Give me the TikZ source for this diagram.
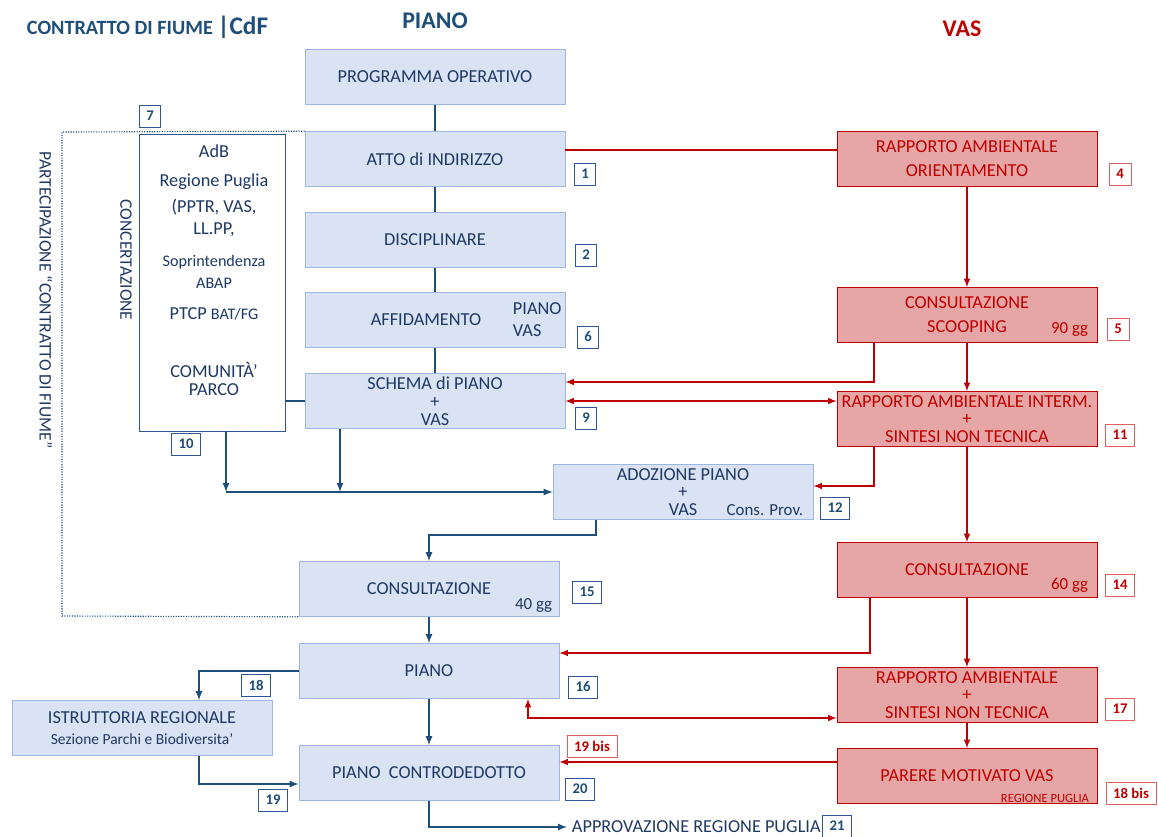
\documentclass[tikz,border=0pt]{standalone}
\usepackage{fontspec}
\setmainfont{Carlito}

\definecolor{pianofill}{HTML}{DAE3F3}
\definecolor{pianoedge}{HTML}{9DB5E0}
\definecolor{pianotext}{HTML}{203864}
\definecolor{pianoline}{HTML}{1F4E79}
\definecolor{numedge}{HTML}{2F5597}
\definecolor{vasfill}{HTML}{E6A6A6}
\definecolor{vasred}{HTML}{C00000}
\definecolor{vasnumedge}{HTML}{E06060}

\newcommand\testo{\fontsize{13}{15.6}\selectfont}
\newcommand\minore{\fontsize{11.5}{13.8}\selectfont}
\newcommand\cifra{\fontsize{10.5}{12.6}\selectfont\bfseries}

\begin{document}
\begin{tikzpicture}[> = latex, x = 0.025cm, y = -0.025cm,
	blocco/.style = {draw = pianoedge, fill = pianofill, text = pianotext, minimum width = 6.5cm, minimum height = 1.375cm, inner sep = 0pt, align = center, font = \testo},
	vasblocco/.style = {blocco, draw = vasred, fill = vasfill, text = vasred},
	num/.style = {draw = numedge, fill = white, text = pianoline, font = \cifra, inner xsep = 5pt, minimum height = 0.55cm},
	vasnum/.style = {num, draw = vasnumedge, text = vasred},
	linea/.style = {draw = pianoline, line width = 1.2pt},
	vaslinea/.style = {draw = vasred, line width = 1.1pt}]

	\useasboundingbox (0, 0) rectangle (1158, 836);

	% Titles
	
	\node [anchor = west, text = pianoline, font = \fontsize{14.4}{17}\selectfont\bfseries] (titolo) at (22, 27) {CONTRATTO DI FIUME {\fontsize{18}{18}\selectfont|CdF}};
	\node [text = pianoline, font = \fontsize{17}{20}\selectfont\bfseries] (piano-tit) at (435, 21) {PIANO};
	\node [text = vasred, font = \fontsize{17}{20}\selectfont\bfseries] (vas-tit) at (962, 29) {VAS};

	% Piano column
	
	\node [blocco] (prog) at (435, 77) {PROGRAMMA OPERATIVO};
	\node [blocco] (atto) at (435, 159) {ATTO di INDIRIZZO};
	\node [blocco] (disc) at (435, 240) {DISCIPLINARE};
	\node [blocco] (affid) at (435, 320) {AFFIDAMENTO\hspace*{0.45cm}};
	\node [blocco] (schema) at (435, 401) {SCHEMA di PIANO\\[-3pt]+\\[-3pt]VAS};
	\node [blocco] (adoz) at (683, 492) {ADOZIONE PIANO\\[-3pt]+\\[-3pt]VAS};
	\node [blocco] (cons) at (429, 589) {CONSULTAZIONE};
	\node [blocco] (piano) at (429, 671) {PIANO};
	\node [blocco] (istr) at (142, 728) {ISTRUTTORIA REGIONALE\\[-1pt]{\fontsize{11}{13}\selectfont Sezione Parchi e Biodiversita’}};
	\node [blocco] (contro) at (429, 773) {PIANO\ \ CONTRODEDOTTO};
	
	\node [anchor = west, text = pianotext, align = left, font = \testo] (affid-pv) at (508, 320) {PIANO\\VAS};
	\node [anchor = east, text = pianotext, font = \fontsize{12}{14}\selectfont] (adoz-cp) at (808, 510) {Cons. Prov.};
	\node [anchor = east, text = pianotext, font = \fontsize{12}{14}\selectfont] (cons-gg) at (557, 605) {40 gg};
	\node [anchor = west, text = pianotext, font = \testo] (appr) at (567, 827) {APPROVAZIONE REGIONE PUGLIA};

	% VAS column
	
	\node [vasblocco] (ra) at (967, 159) {RAPPORTO AMBIENTALE\\[1.5pt]ORIENTAMENTO};
	\node [vasblocco] (scoop) at (967, 315) {CONSULTAZIONE\\[1.5pt]SCOOPING};
	\node [vasblocco] (interm) at (967, 419) {RAPPORTO AMBIENTALE INTERM.\\[-3pt]+\\[-3pt]SINTESI NON TECNICA};
	\node [vasblocco] (cons60) at (967, 570) {CONSULTAZIONE};
	\node [vasblocco] (ra17) at (967, 695) {RAPPORTO AMBIENTALE\\[-3pt]+\\[-3pt]SINTESI NON TECNICA};
	\node [vasblocco] (parere) at (967, 776) {PARERE MOTIVATO VAS};
	
	\node [anchor = east, text = vasred, font = \fontsize{12}{14}\selectfont] (scoop-gg) at (1093, 329) {90 gg};
	\node [anchor = east, text = vasred, font = \fontsize{12}{14}\selectfont] (cons60-gg) at (1093, 585) {60 gg};
	\node [anchor = east, text = vasred, font = \fontsize{9}{10}\selectfont] (parere-rp) at (1094, 798) {REGIONE PUGLIA};

	% Concertazione w participation frame
	
	\node [draw = numedge, fill = white, minimum width = 3.65cm, minimum height = 7.425cm] (conc) at (212, 282.5) {};
	
	\foreach \y/\t in {151/AdB, 182/Regione Puglia, 207/{(PPTR, VAS,}, 230/{LL.PP,}, 262/{\minore Soprintendenza}, 283/{\minore ABAP}, 314/{PTCP {\minore BAT/FG}}, 370/COMUNITÀ’, 390/PARCO}
		\node [text = pianotext, font = \testo, inner sep = 0.5pt] (conc-\y) at (214, \y) {\t};
	
	\node [rotate = -90, text = pianotext, font = \fontsize{12.5}{15}\selectfont] (concert) at (126, 260) {CONCERTAZIONE};
	\node [rotate = -90, text = pianotext, font = \fontsize{12.5}{15}\selectfont] (partec) at (46, 300) {PARTECIPAZIONE “CONTRATTO DI FIUME”};
	
	\coordinate (d1) at (62, 132);
	\coordinate (d2) at (62, 616);
	\draw [pianoline, densely dotted, line width = 0.8pt] (atto.north west) -- (d1) -- (d2) -- (cons.south west);

	% Step numbers
	
	\foreach \t/\x/\y in {7/150/116, 1/585/174, 2/586/255, 6/588/337, 9/586/418, 10/186/444, 12/835/508, 15/587/592, 16/583/687, 18/256/685, 19/273/800, 20/580/789, 21/837/826}
		\node [num] (n\t) at (\x, \y) {\t};
	
	\foreach \t/\x/\y [count = \i] in {4/1120/174, 5/1118/329, 11/1120/435, 14/1120/585, 17/1120/709, 19 bis/592/746, 18 bis/1131/793}
		\node [vasnum] (v\i) at (\x, \y) {\t};

	% Piano connectors
	
	\draw [linea] (prog) -- (atto);
	\draw [linea] (atto) -- (disc);
	\draw [linea] (disc) -- (affid);
	\draw [linea] (affid) -- (schema);
	\draw [linea] (schema.west) -- (schema.west -| conc.east);
	
	\coordinate (g1) at (226, 492);
	\coordinate (g2) at (340, 492);
	\coordinate (g3) at (596, 535);
	\coordinate (g4) at (199, 784);
	
	\draw [linea, ->] (conc.south -| g1) -- (g1);
	\draw [linea, ->] (schema.south -| g2) -- (g2);
	\draw [linea, ->] (g1) -- (adoz.west);
	\draw [linea, ->] (adoz.south -| g3) -- (g3) -| (cons.north);
	\draw [linea, ->] (cons) -- (piano);
	\draw [linea, ->] (piano.west) -| (istr.north -| g4);
	\draw [linea, ->] (istr.south -| g4) |- (contro.west |- g4);
	\draw [linea, ->] (piano) -- (contro);
	\draw [linea, ->] (contro.south) |- (appr.west);

	% VAS connectors
	
	\coordinate (r1) at (874, 382);
	\coordinate (r2) at (874, 486);
	\coordinate (r3) at (870, 653);
	\coordinate (r4) at (528, 718);
	\coordinate (r5) at (700, 762);
	
	\draw [vaslinea] ([yshift = 0.225cm]atto.east) -- ([yshift = 0.225cm]ra.west);
	\draw [vaslinea, ->] (ra) -- (scoop);
	\draw [vaslinea, ->] (scoop.south -| r1) |- (schema.east |- r1);
	\draw [vaslinea, <->] (schema.east) -- (schema.east -| interm.west);
	\draw [vaslinea, ->] (scoop) -- (interm);
	\draw [vaslinea, ->] (interm.south -| r2) |- (adoz.east |- r2);
	\draw [vaslinea, ->] (interm) -- (cons60);
	\draw [vaslinea, ->] (cons60.south -| r3) |- (piano.east |- r3);
	\draw [vaslinea, ->] (cons60) -- (ra17);
	\draw [vaslinea, <->] (piano.south -| r4) |- (ra17.west |- r4);
	\draw [vaslinea, ->] (ra17) -- (parere);
	\draw [vaslinea, ->] (parere.west |- r5) -- (contro.east |- r5);

\end{tikzpicture}
\end{document}
